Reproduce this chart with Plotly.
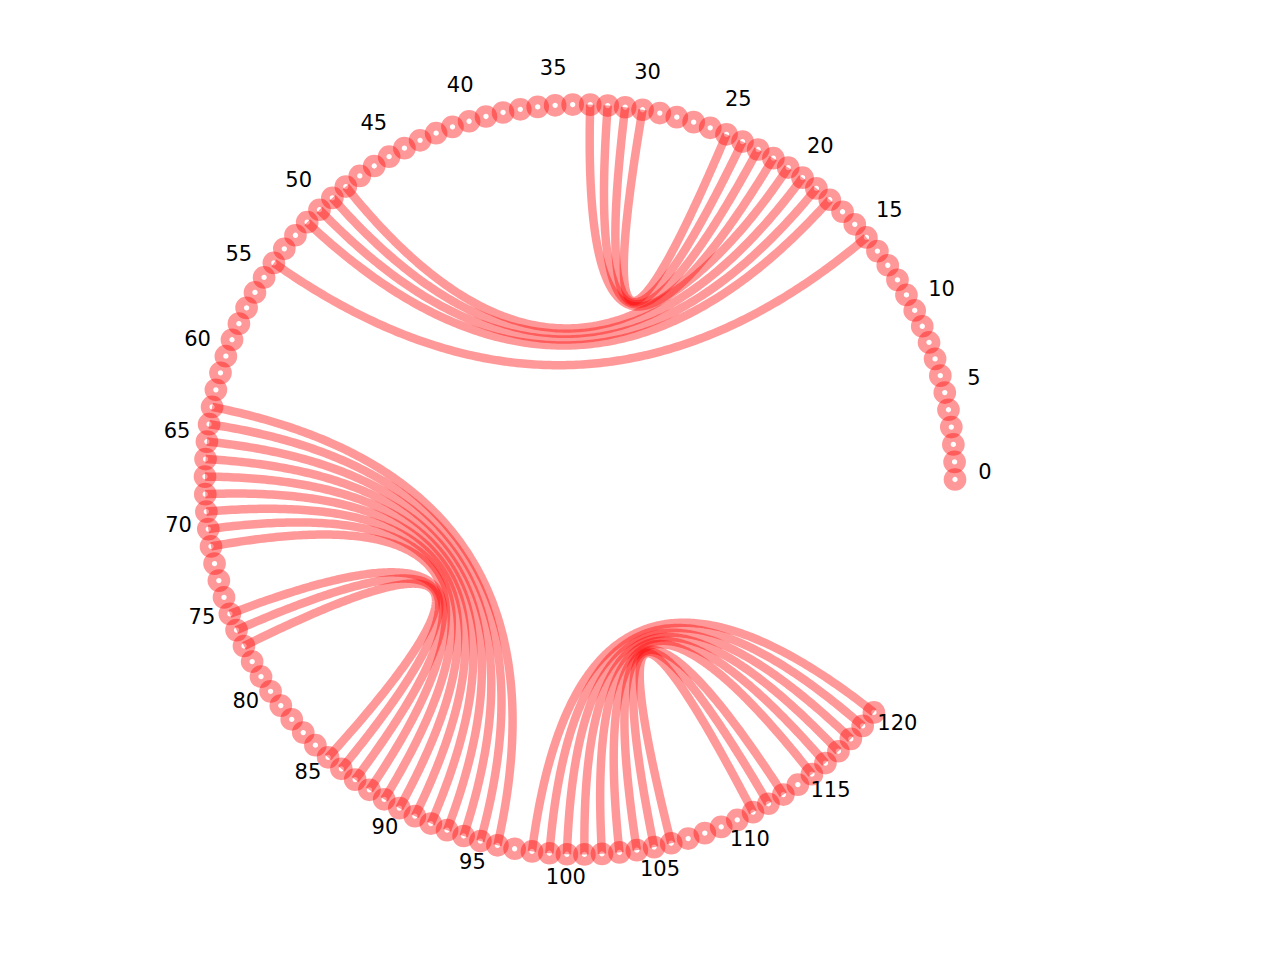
import numpy as np
import plotly.graph_objects as go

# ---- data ----
node_ids = list(range(121))
pair_start = [15, 18, 19, 20, 21, 22, 23, 24, 25,
              63, 64, 65, 66, 67, 68, 69, 70, 71, 75, 76, 77,
              98, 99, 100, 101, 102, 103, 104, 105, 106]
pair_end = [54, 51, 50, 49, 48, 33, 32, 31, 30,
            96, 95, 94, 93, 92, 91, 90, 89, 88, 87, 86, 85,
            120, 119, 118, 117, 116, 115, 113, 112, 111]
tick_labels = [0, 5, 10, 15, 20, 25, 30, 35, 40, 45, 50, 55, 60,
               65, 70, 75, 80, 85, 90, 95, 100, 105, 110, 115, 120]

# ---- layout of nodes on a circle ----
STEP = np.deg2rad(2.68)
theta = np.array(node_ids) * STEP
nx = np.cos(theta)
ny = np.sin(theta)

RED = "rgba(255,0,0,0.4)"
fig = go.Figure()

# edges as quadratic Bezier curves with control point at the centre
t = np.linspace(0, 1, 200)
for a, b in zip(pair_start, pair_end):
    x0, y0 = nx[a], ny[a]
    x1, y1 = nx[b], ny[b]
    cx = (1 - t) ** 2 * x0 + t ** 2 * x1
    cy = (1 - t) ** 2 * y0 + t ** 2 * y1
    fig.add_trace(go.Scatter(x=cx, y=cy, mode="lines",
                             line=dict(color=RED, width=8.5, simplify=False),
                             hoverinfo="skip", showlegend=False))

# nodes
fig.add_trace(go.Scatter(x=nx, y=ny, mode="markers",
                         marker=dict(size=14, color="rgba(0,0,0,0)",
                                     line=dict(color=RED, width=8.7)),
                         hoverinfo="skip", showlegend=False))

# labels
lt = np.array(tick_labels) * STEP
RL = 1.08
fig.add_trace(go.Scatter(x=RL * np.cos(lt), y=RL * np.sin(lt) + 0.016,
                         mode="text", text=[str(v) for v in tick_labels],
                         textposition="middle center",
                         textfont=dict(family="DejaVu Sans", size=21, color="black"),
                         hoverinfo="skip", showlegend=False))

R_PX = 375.0
CX, CY = 572.0, 471.5
fig.update_layout(
    width=1280, height=960,
    margin=dict(l=0, r=0, t=0, b=0),
    paper_bgcolor="white", plot_bgcolor="white",
    xaxis=dict(range=[-CX / R_PX, (1280 - CX) / R_PX], visible=False, fixedrange=True),
    yaxis=dict(range=[-(960 - CY) / R_PX, CY / R_PX], visible=False, fixedrange=True),
    hovermode=False,
)
fig.write_html("out.html")
